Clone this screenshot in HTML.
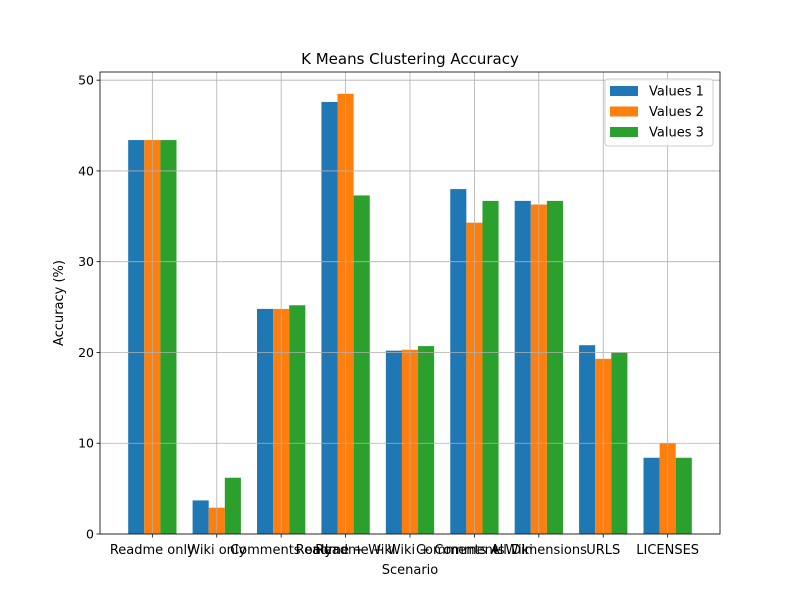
<!DOCTYPE html>
<html><head><meta charset="utf-8"><style>body{margin:0;background:#fff}svg{font-family:"DejaVu Sans","Liberation Sans",sans-serif}</style></head>
<body>
<svg id="c" width="800" height="600" xmlns="http://www.w3.org/2000/svg"></svg>
<script>
const categories=["Readme only","Wiki only","Comments only","Readme + Wiki","Readme + Wiki + Comments","Comments + Wiki","All Dimensions","URLS","LICENSES"];
const values1=[43.4,3.7,24.8,47.6,20.2,38.0,36.7,20.8,8.4];
const values2=[43.4,2.9,24.8,48.5,20.3,34.3,36.3,19.3,10.0];
const values3=[43.4,6.2,25.2,37.3,20.7,36.7,36.7,20.0,8.4];
const seriesNames=["Values 1","Values 2","Values 3"];
const yTicks=[0,10,20,30,40,50];
const colors=["#1f77b4","#ff7f0e","#2ca02c"];
const L=100,R=720,T=72,B=534;
const xmin=-0.8125,xmax=8.8125,ymax=50.9;
const xs=v=>L+(v-xmin)/(xmax-xmin)*(R-L);
const ys=v=>B-v/ymax*(B-T);
const svg=document.getElementById('c');const NS="http://www.w3.org/2000/svg";
function mk(t,a,p){const e=document.createElementNS(NS,t);for(const k in a)e.setAttribute(k,a[k]);(p||svg).appendChild(e);return e;}
[values1,values2,values3].forEach((vals,s)=>{vals.forEach((v,i)=>{
 const x0=xs(i+(s-1)*0.25-0.125),x1=xs(i+(s-1)*0.25+0.125);
 const r=mk('rect',{x:x0,y:ys(v),width:x1-x0,height:B-ys(v),fill:colors[s]});
 
 
});});
categories.forEach((c,i)=>{
 const x=xs(i);
 const g=mk('line',{x1:x,x2:x,y1:T,y2:B,stroke:'#b0b0b0','stroke-width':0.8});
 
 
 mk('line',{x1:x,x2:x,y1:B,y2:B+3.5,stroke:'#000','stroke-width':0.8});
 const t=mk('text',{x:x,y:B+20,'text-anchor':'middle','font-size':13});t.textContent=c;
 
 
});
yTicks.forEach(v=>{
 const y=ys(v);
 const g=mk('line',{x1:L,x2:R,y1:y,y2:y,stroke:'#b0b0b0','stroke-width':0.8});
 
 
 mk('line',{x1:L-3.5,x2:L,y1:y,y2:y,stroke:'#000','stroke-width':0.8});
 const t=mk('text',{x:L-6,y:y+4.5,'text-anchor':'end','font-size':12.5});t.textContent=v;
 
 
});
const fr=mk('rect',{x:L,y:T,width:R-L,height:B-T,fill:'none',stroke:'#000','stroke-width':0.8});


let t=mk('text',{x:410,y:64,'text-anchor':'middle','font-size':15});t.textContent="K Means Clustering Accuracy";


t=mk('text',{x:410,y:574,'text-anchor':'middle','font-size':13});t.textContent="Scenario";


t=mk('text',{x:63,y:303,'text-anchor':'middle','font-size':13,transform:'rotate(-90 63 303)'});t.textContent="Accuracy (%)";


const lg=mk('g',{});


mk('rect',{x:605,y:79,width:108,height:67,rx:3,fill:'#fff','fill-opacity':0.8,stroke:'#ccc'},lg);
seriesNames.forEach((n,s)=>{
 const y=91+s*20.5;
 mk('rect',{x:610,y:y-5,width:28,height:10,fill:colors[s]},lg);
 const e=mk('text',{x:649,y:y+4.5,'font-size':13},lg);e.textContent=n;
 
 
});
</script>
</body></html>
